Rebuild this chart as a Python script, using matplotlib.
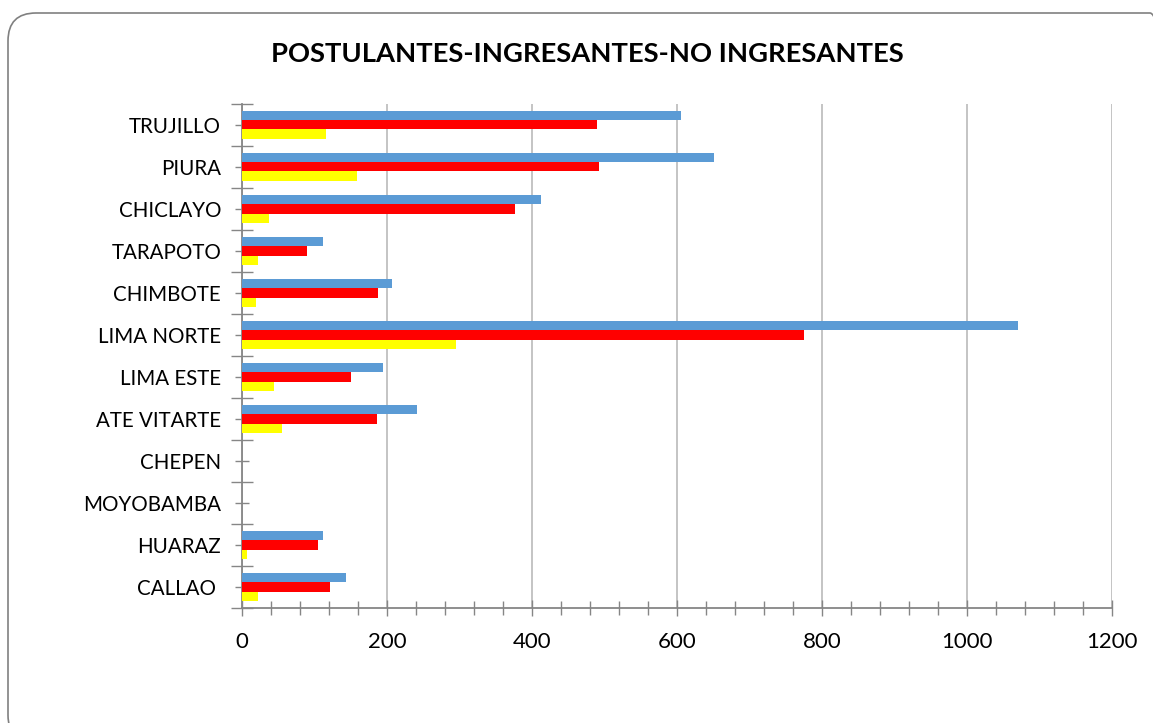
import numpy as np
import matplotlib.pyplot as plt
from matplotlib.patches import FancyBboxPatch
from matplotlib.transforms import IdentityTransform
from matplotlib.ticker import MultipleLocator

plt.rcParams['font.family'] = ['Lato', 'DejaVu Sans']

sedes = ['TRUJILLO', 'PIURA', 'CHICLAYO', 'TARAPOTO', 'CHIMBOTE', 'LIMA NORTE',
         'LIMA ESTE', 'ATE VITARTE', 'CHEPEN', 'MOYOBAMBA', 'HUARAZ', 'CALLAO ']
postulantes = [606, 651, 413, 112, 207, 1070, 194, 241, 0, 0, 112, 144]
ingresantes = [490, 492, 376, 90, 188, 775, 150, 186, 0, 0, 105, 122]
no_ingresantes = [116, 159, 37, 22, 19, 295, 44, 55, 0, 0, 7, 22]

fig = plt.figure(figsize=(11.53, 7.23), dpi=100)
ax = fig.add_axes([0.2099, 0.159, 0.7545, 0.6973])

y = np.arange(len(sedes))
h = 0.218
ax.barh(y - h, postulantes, height=h, color='#5B9BD5', zorder=3)
ax.barh(y, ingresantes, height=h, color='#FF0000', zorder=3)
ax.barh(y + h, no_ingresantes, height=h, color='#FFFF00', zorder=3)

ax.set_ylim(len(sedes) - 0.5, -0.5)
ax.set_xlim(0, 1200)

ax.set_yticks(y)
ax.set_yticklabels(sedes)
ax.set_yticks(np.arange(len(sedes) + 1) - 0.5, minor=True)
ax.tick_params(axis='y', which='major', direction='inout', length=10, width=1,
               color='#868686', labelsize=14.8, pad=10)
ax.tick_params(axis='y', which='minor', direction='inout', length=16, width=1,
               color='#868686')

ax.xaxis.set_major_locator(MultipleLocator(200))
ax.xaxis.set_minor_locator(MultipleLocator(40))
ax.tick_params(axis='x', which='major', direction='inout', length=12, width=1,
               color='#868686', labelsize=16, pad=11)
ax.tick_params(axis='x', which='minor', direction='inout', length=10, width=1,
               color='#868686')

ax.grid(axis='x', which='major', color='#BFBFBF', linewidth=1.3, zorder=0)
for s in ['top', 'right']:
    ax.spines[s].set_visible(False)
for s in ['left', 'bottom']:
    ax.spines[s].set_color('#868686')
    ax.spines[s].set_linewidth(1.3)

fig.text(0.509, 0.926, 'POSTULANTES-INGRESANTES-NO INGRESANTES', ha='center',
         va='center', fontsize=19.7, fontweight='bold')

border = FancyBboxPatch((8, -20), 1170, 730, boxstyle='round,pad=0,rounding_size=28',
                        transform=IdentityTransform(), facecolor='none',
                        edgecolor='#808080', linewidth=1.2)
fig.patches.append(border)

fig.savefig('out.png', dpi=100)
